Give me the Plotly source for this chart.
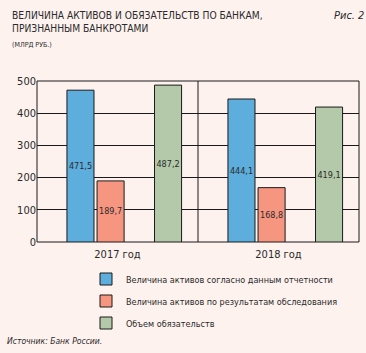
import plotly.graph_objects as go

categories = ["2017 год", "2018 год"]
series_names = [
    "Величина активов согласно данным отчетности",
    "Величина активов по результатам обследования",
    "Объем обязательств",
]
assets_reported = [471.5, 444.1]
assets_surveyed = [189.7, 168.8]
liabilities = [487.2, 419.1]
y_ticks = [0, 100, 200, 300, 400, 500]

colors = ["#5DAEDD", "#F79680", "#B3C9A9"]
offsets = [-0.314, -0.127, 0.23]
bar_w = 0.168
FONT = "Liberation Sans Narrow, Arial Narrow, DejaVu Sans Condensed, sans-serif"
BG = "#FDF2EE"
TXT = "#2a2a2a"

L, R, T, B = 37, 359, 81, 242
W, H = R - L, B - T


def fmt(v):
    return f"{v:.1f}".replace(".", ",")


def px(xp):
    return (xp - L) / W


def py(yp):
    return (B - yp) / H


fig = go.Figure()
for i, (name, vals) in enumerate(zip(series_names, [assets_reported, assets_surveyed, liabilities])):
    fig.add_trace(go.Bar(
        x=[0, 1], y=vals, name=name,
        marker=dict(color=colors[i], line=dict(color="#1a1a1a", width=1)),
        width=bar_w, offset=offsets[i],
        text=[fmt(v) for v in vals], textposition="inside",
        insidetextanchor="middle", textangle=0, constraintext="none",
        textfont=dict(family=FONT, size=9, color=TXT),
        legendgroup=f"g{i}",
    ))

fig.update_layout(
    width=366, height=353,
    margin=dict(l=L, r=366 - R, t=T, b=353 - B),
    paper_bgcolor=BG, plot_bgcolor=BG,
    barmode="overlay",
    font=dict(family=FONT, color=TXT),
    showlegend=True,
    legend=dict(
        x=px(86), y=py(264.5), xanchor="left", yanchor="top",
        bgcolor="rgba(0,0,0,0)", font=dict(family=FONT, size=9, color=TXT),
        traceorder="grouped", tracegroupgap=3, itemwidth=30,
    ),
    xaxis=dict(
        range=[-0.5, 1.5], tickvals=[0, 1], ticktext=categories,
        showgrid=False, zeroline=False, showline=False, ticks="",
        ticklabelstandoff=4,
        tickfont=dict(family=FONT, size=11, color=TXT),
    ),
    yaxis=dict(
        range=[0, 500], tickvals=y_ticks, showgrid=True, gridcolor="#1a1a1a",
        gridwidth=1, zeroline=False, showline=False, ticks="",
        tickfont=dict(family=FONT, size=11, color=TXT),
    ),
)

# plot frame and divider between years
fig.add_shape(type="rect", xref="paper", yref="paper", x0=0, x1=1, y0=0, y1=1,
              line=dict(color="#1a1a1a", width=1), layer="below")
fig.add_shape(type="line", xref="x", yref="paper", x0=0.5, x1=0.5, y0=0, y1=1,
              line=dict(color="#1a1a1a", width=1), layer="below")

fig.add_annotation(xref="paper", yref="paper", x=px(10), y=py(8), xanchor="left", yanchor="top",
                   text="ВЕЛИЧИНА АКТИВОВ И ОБЯЗАТЕЛЬСТВ ПО БАНКАМ,<br>ПРИЗНАННЫМ БАНКРОТАМИ",
                   align="left", showarrow=False,
                   font=dict(family=FONT, size=10.2, color=TXT))
fig.add_annotation(xref="paper", yref="paper", x=px(10), y=py(39), xanchor="left", yanchor="top",
                   text="(МЛРД РУБ.)", align="left", showarrow=False,
                   font=dict(family=FONT, size=7, color=TXT))
fig.add_annotation(xref="paper", yref="paper", x=px(366), y=py(7), xanchor="right", yanchor="top",
                   text="<i>Рис. 2</i>", showarrow=False,
                   font=dict(family=FONT, size=11, color=TXT))
fig.add_annotation(xref="paper", yref="paper", x=px(5), y=py(334), xanchor="left", yanchor="top",
                   text="<i>Источник: Банк России.</i>", showarrow=False,
                   font=dict(family=FONT, size=8.5, color=TXT))

fig.write_html("out.html")
